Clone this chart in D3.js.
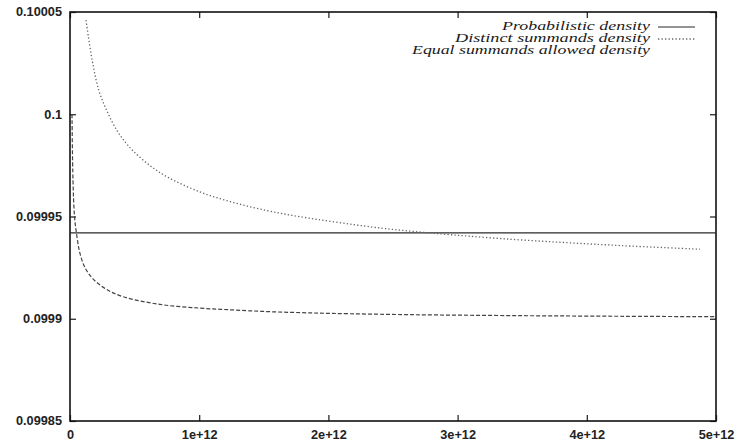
<!DOCTYPE html>
<html>
<head>
<meta charset="utf-8">
<script src="https://cdn.jsdelivr.net/npm/d3@7"></script>
<style>
  html, body { margin: 0; padding: 0; background: #fff; }
  svg { display: block; }
  .tick text { font-family: "Liberation Sans", Arial, sans-serif; font-size: 12px; font-weight: bold; fill: #222; }
  .legend text { font-family: "Liberation Serif", "Times New Roman", serif; font-style: italic; font-size: 13.5px; fill: #1a1a1a; }
</style>
</head>
<body>
<script>
// Axis ticks and labels
const xTickValues = [0, 1e12, 2e12, 3e12, 4e12, 5e12];
const xTickLabels = ["0", "1e+12", "2e+12", "3e+12", "4e+12", "5e+12"];
const yTickValues = [0.09985, 0.0999, 0.09995, 0.1, 0.10005];
const yTickLabels = ["0.09985", "0.0999", "0.09995", "0.1", "0.10005"];

// Series names (legend order)
const seriesNames = ["Probabilistic density", "Distinct summands density", "Equal summands allowed density"];

// Probabilistic density
const probX = [0, 5e12];
const probY = [0.099942, 0.099942];

// Distinct summands density
const distinctX = [0.124e12, 0.170e12, 0.224e12, 0.294e12, 0.364e12, 0.418e12, 0.488e12, 0.619e12,
                   0.751e12, 1.006e12, 1.262e12, 1.525e12, 1.780e12, 2.345e12, 2.608e12, 2.964e12,
                   3.429e12, 3.847e12, 4.257e12, 4.876e12];
const distinctY = [0.1000460, 0.1000270, 0.1000115, 0.1000005, 0.0999920, 0.0999872, 0.0999821, 0.0999749,
                   0.0999694, 0.0999620, 0.0999569, 0.0999529, 0.0999499, 0.0999448, 0.0999430, 0.0999410,
                   0.0999388, 0.0999372, 0.0999358, 0.0999340];

// Equal summands allowed density
const equalX = [0.0155e12, 0.023e12, 0.035e12, 0.054e12, 0.077e12, 0.116e12, 0.178e12, 0.279e12,
                0.410e12, 0.697e12, 1.006e12, 1.262e12, 1.525e12, 1.780e12, 2.036e12, 2.632e12,
                3.500e12, 4.300e12, 5.000e12];
const equalY = [0.100000, 0.099968, 0.099950, 0.099940, 0.099932, 0.099925, 0.0999195, 0.0999145,
                0.0999108, 0.099907, 0.0999052, 0.0999043, 0.0999035, 0.0999030, 0.0999026, 0.0999020,
                0.0999015, 0.0999012, 0.0999010];

const W = 739, H = 447;
const plotLeft = 70, plotRight = 716, plotTop = 12, plotBottom = 421;

const svg = d3.select("body").append("svg").attr("width", W).attr("height", H);

const x = d3.scaleLinear().domain([0, 5e12]).range([plotLeft, plotRight]);
const y = d3.scaleLinear().domain([0.09985, 0.10005]).range([plotBottom, plotTop]);

const tickLen = 6;

// Axes with inward ticks; mirrored on the top and right edges
const gx = svg.append("g").attr("transform", `translate(0,${plotBottom})`)
  .call(d3.axisBottom(x).tickValues(xTickValues).tickSize(-tickLen).tickPadding(9)
        .tickFormat((d, i) => xTickLabels[i]));
const gy = svg.append("g").attr("transform", `translate(${plotLeft},0)`)
  .call(d3.axisLeft(y).tickValues(yTickValues).tickSize(-tickLen).tickPadding(8)
        .tickFormat((d, i) => yTickLabels[i]));
const gxt = svg.append("g").attr("transform", `translate(0,${plotTop})`)
  .call(d3.axisTop(x).tickValues(xTickValues).tickSize(-tickLen).tickFormat(""));
const gyr = svg.append("g").attr("transform", `translate(${plotRight},0)`)
  .call(d3.axisRight(y).tickValues(yTickValues).tickSize(-tickLen).tickFormat(""));

[gx, gy, gxt, gyr].forEach(g => {
  g.select(".domain").remove();
  g.selectAll(".tick line").attr("stroke", "#1a1a1a").attr("stroke-width", 1.2);
});

// widen the tick labels a little
svg.selectAll(".tick text").each(function () {
  const t = d3.select(this);
  const len = this.getComputedTextLength();
  if (len > 0) t.attr("textLength", len * 1.06).attr("lengthAdjust", "spacingAndGlyphs");
});

// Plot frame
svg.append("rect")
  .attr("x", plotLeft).attr("y", plotTop)
  .attr("width", plotRight - plotLeft).attr("height", plotBottom - plotTop)
  .attr("fill", "none").attr("stroke", "#111").attr("stroke-width", 1.6);

const line = d3.line().x(d => x(d[0])).y(d => y(d[1])).curve(d3.curveCatmullRom.alpha(0.5));

const plot = svg.append("g");

plot.append("path")
  .datum(probX.map((v, i) => [v, probY[i]]))
  .attr("d", line).attr("fill", "none")
  .attr("stroke", "#2a2a2a").attr("stroke-width", 1.1);

plot.append("path")
  .datum(distinctX.map((v, i) => [v, distinctY[i]]))
  .attr("d", line).attr("fill", "none")
  .attr("stroke", "#666").attr("stroke-width", 1.3)
  .attr("stroke-dasharray", "1.3,2.2");

plot.append("path")
  .datum(equalX.map((v, i) => [v, equalY[i]]))
  .attr("d", line).attr("fill", "none")
  .attr("stroke", "#444").attr("stroke-width", 1.2)
  .attr("stroke-dasharray", "4,2");

// Legend (top right, text right-aligned with line samples)
const legend = svg.append("g").attr("class", "legend");
const legendRight = 650;
const legendBase = [30, 42, 53.5];
const legendWidths = [148, 195, 238];
const legendStyles = [
  { stroke: "#2a2a2a", dash: null, width: 1.1 },
  { stroke: "#666", dash: "1.3,2.2", width: 1.3 },
  null
];
seriesNames.forEach((name, i) => {
  legend.append("text")
    .attr("x", legendRight).attr("y", legendBase[i])
    .attr("text-anchor", "end")
    .attr("textLength", legendWidths[i])
    .attr("lengthAdjust", "spacingAndGlyphs")
    .text(name);
  const s = legendStyles[i];
  if (s) {
    legend.append("line")
      .attr("x1", 658).attr("x2", 695)
      .attr("y1", legendBase[i] - 3).attr("y2", legendBase[i] - 3)
      .attr("stroke", s.stroke).attr("stroke-width", s.width)
      .attr("stroke-dasharray", s.dash);
  }
});
</script>
</body>
</html>
